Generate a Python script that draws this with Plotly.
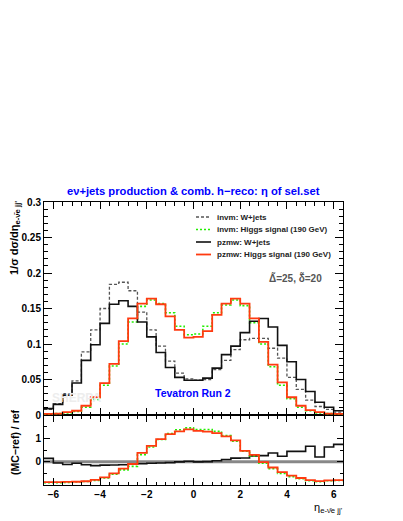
import numpy as np
import plotly.graph_objects as go

# ---------------- data ----------------
bin_edges = [round(-6.4 + 0.4 * i, 2) for i in range(33)]

invm_wjets = [0.008, 0.016, 0.030, 0.048, 0.089, 0.120, 0.150, 0.184, 0.187, 0.175, 0.145, 0.120, 0.097, 0.076, 0.059, 0.051,
              0.049, 0.050, 0.064, 0.077, 0.092, 0.106, 0.108, 0.108, 0.094, 0.080, 0.053, 0.036, 0.021, 0.012, 0.008, 0.004]
invm_higgs = [0.001, 0.002, 0.003, 0.005, 0.011, 0.022, 0.042, 0.069, 0.100, 0.131, 0.153, 0.162, 0.157, 0.144, 0.125, 0.113,
              0.114, 0.125, 0.144, 0.155, 0.162, 0.154, 0.130, 0.100, 0.068, 0.042, 0.023, 0.011, 0.006, 0.003, 0.002, 0.001]
pzmw_wjets = [0.009, 0.015, 0.028, 0.045, 0.077, 0.099, 0.129, 0.156, 0.161, 0.153, 0.131, 0.110, 0.088, 0.067, 0.053, 0.049,
              0.049, 0.052, 0.066, 0.085, 0.097, 0.116, 0.132, 0.136, 0.124, 0.098, 0.075, 0.050, 0.033, 0.018, 0.011, 0.006]
pzmw_higgs = [0.0015, 0.002, 0.004, 0.006, 0.013, 0.025, 0.045, 0.072, 0.104, 0.136, 0.157, 0.164, 0.156, 0.139, 0.120, 0.109,
              0.110, 0.118, 0.141, 0.157, 0.164, 0.157, 0.136, 0.103, 0.071, 0.046, 0.025, 0.013, 0.007, 0.004, 0.002, 0.0015]

ratio_ref = [0.0, 0.0, 0.0, 0.0, 0.0, 0.0, 0.0, 0.0, 0.0, 0.0, 0.0, 0.0, 0.0, 0.0, 0.0, 0.0,
             0.0, 0.0, 0.0, 0.0, 0.0, 0.0, 0.0, 0.0, 0.0, 0.0, 0.0, 0.0, 0.0, 0.0, 0.0, 0.0]
ratio_invm_higgs = [-0.90, -0.90, -0.89, -0.87, -0.85, -0.80, -0.70, -0.54, -0.35, -0.20, 0.30, 0.63, 0.95, 1.20, 1.37, 1.45,
                    1.38, 1.38, 1.30, 1.12, 0.88, 0.45, 0.25, -0.07, -0.30, -0.50, -0.64, -0.73, -0.82, -0.86, -0.82, -0.81]
ratio_pzmw_wjets = [0.14, -0.06, -0.12, -0.07, -0.13, -0.17, -0.15, -0.14, -0.13, -0.11, -0.09, -0.07, -0.06, -0.04, -0.01, 0.02,
                    -0.01, 0.00, 0.04, 0.09, 0.15, 0.16, 0.25, 0.26, 0.37, 0.23, 0.44, 0.44, 0.66, 0.20, 0.63, 0.74]
ratio_pzmw_higgs = [-0.88, -0.88, -0.87, -0.86, -0.84, -0.78, -0.67, -0.50, -0.30, -0.10, 0.38, 0.68, 0.97, 1.18, 1.30, 1.38,
                    1.32, 1.29, 1.22, 1.08, 0.91, 0.46, 0.29, -0.02, -0.25, -0.45, -0.60, -0.70, -0.79, -0.83, -0.80, -0.79]

legend_labels = ["invm: W+jets", "invm: Higgs signal (190 GeV)", "pzmw: W+jets", "pzmw: Higgs signal (190 GeV)"]

# ---------------- styling ----------------
FONT = "Liberation Sans, Arial, Helvetica, sans-serif"
OFF = 8                      # default page margin of the html body
W, H = 403 - OFF, 521 - OFF
# plot frame in page pixels: x 44..343, y 202..485
L, R, T, B = 44 - OFF, W - (343 - OFF), 202 - OFF, H - (485 - OFF)
PW, PH = W - L - R, H - T - B
split = 70 / PH

def px2x(px):
    return (px - OFF - L) / PW

def px2y(py):
    return (H - B - (py - OFF)) / PH

def step(vals):
    return list(bin_edges), list(vals) + [vals[-1]]

styles = [
    dict(color="#555555", width=1.3, dash="3px,2px"),
    dict(color="#22ee00", width=1.6, dash="2px,2px"),
    dict(color="#111111", width=1.6, dash="solid"),
    dict(color="#ff3a10", width=1.8, dash="solid"),
]

fig = go.Figure()
for vals, st, name in zip([invm_wjets, invm_higgs, pzmw_wjets, pzmw_higgs], styles, legend_labels):
    xs, ys = step(vals)
    fig.add_trace(go.Scatter(x=xs, y=ys, mode="lines", line=dict(shape="hv", **st),
                             xaxis="x2", yaxis="y2", name=name, showlegend=False, hoverinfo="skip"))

xs, ys = step(ratio_ref)
fig.add_trace(go.Scatter(x=xs, y=ys, mode="lines", line=dict(shape="hv", color="#888888", width=3),
                         xaxis="x", yaxis="y", showlegend=False, hoverinfo="skip"))
for vals, st in zip([ratio_pzmw_wjets, ratio_invm_higgs, ratio_pzmw_higgs], [styles[2], styles[1], styles[3]]):
    xs, ys = step(vals)
    fig.add_trace(go.Scatter(x=xs, y=ys, mode="lines", line=dict(shape="hv", **st),
                             xaxis="x", yaxis="y", showlegend=False, hoverinfo="skip"))

tickfont = dict(family=FONT, size=10, color="black", weight="bold")
axis_common = dict(showline=True, linecolor="black", linewidth=1, mirror="ticks", ticks="inside",
                   showgrid=False, zeroline=False, tickcolor="black")

fig.update_layout(
    width=W, height=H, margin=dict(l=L, r=R, t=T, b=B),
    paper_bgcolor="white", plot_bgcolor="white", showlegend=False,
    xaxis=dict(domain=[0, 1], anchor="y", range=[-6.4, 6.4], tickmode="linear", tick0=0, dtick=2,
               ticklen=7, tickwidth=1, tickfont=tickfont,
               minor=dict(ticks="inside", dtick=0.4, tick0=0, ticklen=3.5, tickcolor="black"),
               **axis_common),
    xaxis2=dict(domain=[0, 1], anchor="y2", matches="x", range=[-6.4, 6.4], tickmode="linear", tick0=0, dtick=2,
                ticklen=7, showticklabels=False,
                minor=dict(ticks="inside", dtick=0.4, tick0=0, ticklen=3.5, tickcolor="black"),
                **axis_common),
    yaxis=dict(domain=[0, split], anchor="x", range=[-1, 2], tickmode="array", tickvals=[0, 1], ticktext=["0", "1"],
               ticklen=6, tickfont=tickfont,
               minor=dict(ticks="inside", dtick=0.5, tick0=0, ticklen=3, tickcolor="black"),
               **axis_common),
    yaxis2=dict(domain=[split, 1], anchor="x2", range=[0, 0.3], tickmode="linear", tick0=0, dtick=0.05,
                ticklen=8, tickfont=tickfont,
                minor=dict(ticks="inside", dtick=0.01, tick0=0, ticklen=4, tickcolor="black"),
                **axis_common),
)

ann = []
# title
ann.append(dict(text="eν+jets production & comb. h−reco: η of sel.set", x=px2x(193), y=px2y(191),
                xref="paper", yref="paper", xanchor="center", yanchor="middle", showarrow=False,
                font=dict(family=FONT, size=11.2, color="#0000ff", weight="bold")))
# y titles
ann.append(dict(text="1/σ dσ/dη<sub>e-ν̄e jj'</sub>", x=px2x(15), y=px2y(199), xref="paper", yref="paper",
                xanchor="center", yanchor="top", textangle=-90, showarrow=False,
                font=dict(family=FONT, size=11, color="black", weight="bold")))
ann.append(dict(text="(MC−ref) / ref", x=px2x(15), y=px2y(442), xref="paper", yref="paper",
                xanchor="center", yanchor="middle", textangle=-90, showarrow=False,
                font=dict(family=FONT, size=10.5, color="black", weight="bold")))
# x title
ann.append(dict(text="η<sub>e-ν̄e jj'</sub>", x=px2x(345), y=px2y(499), xref="paper", yref="paper",
                xanchor="right", yanchor="top", showarrow=False,
                font=dict(family=FONT, size=11, color="black")))
# labels
ann.append(dict(text="Tevatron Run 2", x=px2x(193), y=px2y(393), xref="paper", yref="paper",
                xanchor="center", yanchor="middle", showarrow=False,
                font=dict(family=FONT, size=10.5, color="#0000ff", weight="bold")))
ann.append(dict(text="Δ̃=25, δ̃=20", x=px2x(295), y=px2y(278), xref="paper", yref="paper",
                xanchor="center", yanchor="middle", showarrow=False,
                font=dict(family=FONT, size=10, color="#555555", weight="bold")))
ann.append(dict(text="SHERPA", x=px2x(76), y=px2y(398), xref="paper", yref="paper",
                xanchor="center", yanchor="middle", showarrow=False,
                font=dict(family=FONT, size=12, color="#ededed", weight="bold")))

# manual legend
shapes = []
leg_y = [217, 229.5, 242, 254.5]
for lab, st, yy in zip(legend_labels, styles, leg_y):
    shapes.append(dict(type="line", xref="paper", yref="paper", x0=px2x(196), x1=px2x(211),
                       y0=px2y(yy), y1=px2y(yy), line=dict(color=st["color"], width=st["width"], dash=st["dash"])))
    ann.append(dict(text=lab, x=px2x(215), y=px2y(yy), xref="paper", yref="paper", xanchor="left",
                    yanchor="middle", showarrow=False,
                    font=dict(family=FONT, size=8, color="#222222", weight="bold")))

fig.update_layout(annotations=ann, shapes=shapes)
fig.write_html("out.html")
